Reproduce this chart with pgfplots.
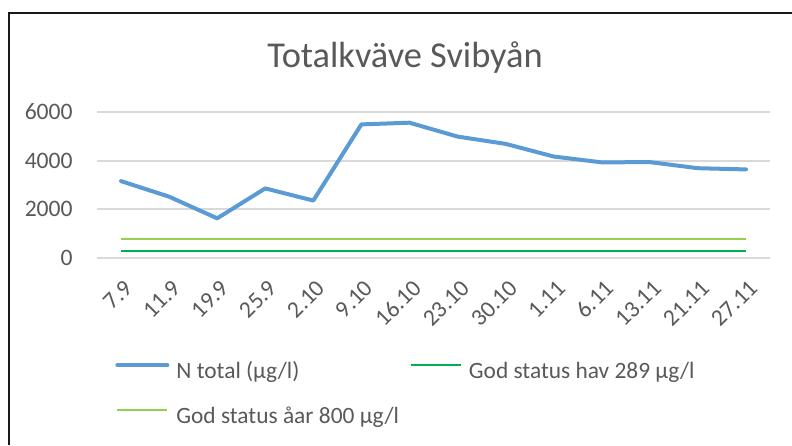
\documentclass[border=0pt]{standalone}
\usepackage{pgfplots}
\pgfplotsset{compat=1.18}
\usepackage{fontspec}
\setmainfont{Carlito}

\definecolor{txt}{HTML}{595959}
\definecolor{nblue}{HTML}{5B9BD5}
\definecolor{hav}{HTML}{00B050}
\definecolor{aar}{HTML}{92D050}
\definecolor{gridc}{HTML}{D9D9D9}

\begin{document}
\begin{tikzpicture}
% picture is 792x445 px, 1px = 0.5pt
\useasboundingbox (0,0) rectangle (396pt,222.5pt);
\draw[line width=1pt, black!90] (4.5pt,0) -- (4.5pt,216pt) -- (396pt,216pt);
\node[text=txt, font=\fontsize{18.2pt}{21pt}\selectfont] at (202.5pt,193.5pt) {Totalkväve Svibyån};

\begin{axis}[
    at={(48.5pt,93.5pt)},
    anchor=south west,
    scale only axis,
    width=336.5pt,
    height=73pt,
    xmin=-0.5, xmax=13.5,
    ymin=0, ymax=6000,
    enlargelimits=false,
    axis line style={draw=none},
    major tick length=0pt,
    ymajorgrids,
    grid style={gridc, line width=1pt},
    ytick={0,2000,4000,6000},
    xtick={0,...,13},
    xticklabels={7.9,11.9,19.9,25.9,2.10,9.10,16.10,23.10,30.10,1.11,6.11,13.11,21.11,27.11},
    /pgf/number format/assume math mode=true,
    /pgf/number format/1000 sep={},
    tick label style={text=txt, font=\fontsize{11.8pt}{13pt}\selectfont, inner sep=0pt},
    yticklabel style={anchor=east, xshift=-12pt},
    % shifts act in the rotated frame: world (4pt,-13pt)
    xticklabel style={rotate=45, anchor=east, xshift=-6.4pt, yshift=-12.0pt},
    legend columns=2,
    legend cell align=left,
    legend image code/.code={\draw[#1] (0pt,0.3em) -- (25pt,0.3em);},
    legend style={
        at={(axis description cs:0.0267,-0.705)},
        anchor=north west,
        draw=none, fill=none,
        inner sep=0pt,
        row sep=12.5pt,
        column sep=0pt,
        /tikz/every odd column/.append style={column sep=3.5pt},
        /tikz/every even column/.append style={column sep=5.5pt},
        font=\fontsize{11.7pt}{14pt}\selectfont,
        text=txt,
        nodes={inner sep=0pt},
    },
]
\addplot[nblue, line width=2pt, line join=round, line cap=round] coordinates {
    (0,3160) (1,2520) (2,1630) (3,2860) (4,2360) (5,5490) (6,5560)
    (7,4990) (8,4690) (9,4170) (10,3930) (11,3940) (12,3690) (13,3640)
};
\addlegendentry{N total (µg/l)}
\addplot[hav, line width=1pt] coordinates {(0,289) (13,289)};
\addlegendentry{God status hav 289 µg/l}
\addplot[aar, line width=1pt] coordinates {(0,800) (13,800)};
\addlegendentry{God status åar 800 µg/l}
\end{axis}
\end{tikzpicture}
\end{document}
